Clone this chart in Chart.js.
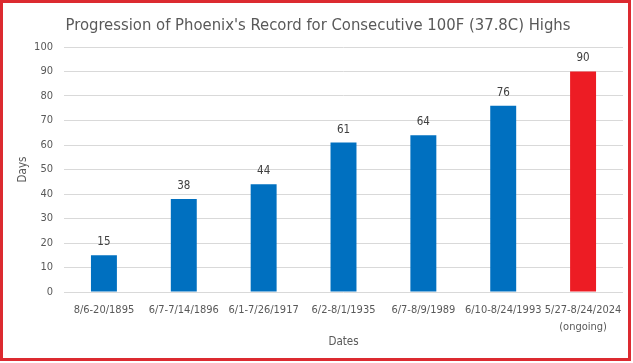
<!DOCTYPE html>
<html>
<head>
<meta charset="utf-8">
<script src="https://cdn.jsdelivr.net/npm/chart.js@4/dist/chart.umd.min.js"></script>
<style>
  html, body { margin: 0; padding: 0; background: #fff; }
  #wrap { position: relative; width: 633px; height: 363px; }
  #frame { position: absolute; left: 0; top: 0; width: 631px; height: 361px; box-sizing: border-box; border: 3px solid #dc2a30; pointer-events: none; }
  canvas { position: absolute; left: 0; top: 0; }
</style>
</head>
<body>
<div id="wrap">
  <canvas id="c" width="633" height="363"></canvas>
  <div id="frame"></div>
</div>
<script>
const categories = ['8/6-20/1895', '6/7-7/14/1896', '6/1-7/26/1917', '6/2-8/1/1935', '6/7-8/9/1989', '6/10-8/24/1993', ['5/27-8/24/2024', '(ongoing)']];
const days = [15, 38, 44, 61, 64, 76, 90];
const barColors = ['#0070c0', '#0070c0', '#0070c0', '#0070c0', '#0070c0', '#0070c0', '#ed1c24'];
const yTicks = [0, 10, 20, 30, 40, 50, 60, 70, 80, 90, 100];
const chartTitle = "Progression of Phoenix's Record for Consecutive 100F (37.8C) Highs";

const FONT = '"DejaVu Sans Condensed", "Liberation Sans", sans-serif';
const GREY = '#595959';

const valueLabels = {
  id: 'valueLabels',
  afterDatasetsDraw(chart) {
    const ctx = chart.ctx;
    const meta = chart.getDatasetMeta(0);
    ctx.save();
    ctx.font = '11.5px ' + FONT;
    ctx.fillStyle = '#404040';
    ctx.textAlign = 'center';
    ctx.textBaseline = 'middle';
    meta.data.forEach((bar, i) => {
      ctx.fillText(String(days[i]), bar.x, bar.y - 13);
    });
    ctx.restore();
  }
};

const titlePlugin = {
  id: 'customTitle',
  afterDraw(chart) {
    const ctx = chart.ctx;
    ctx.save();
    ctx.font = '16.5px ' + FONT;
    ctx.fillStyle = GREY;
    ctx.textAlign = 'center';
    ctx.textBaseline = 'middle';
    ctx.fillText(chartTitle, 318, 26);
    ctx.restore();
  }
};

new Chart(document.getElementById('c'), {
  type: 'bar',
  data: {
    labels: categories,
    datasets: [{
      data: days,
      backgroundColor: barColors,
      borderWidth: 0,
      categoryPercentage: 1,
      barPercentage: 0.325
    }]
  },
  options: {
    responsive: false,
    animation: false,
    layout: { padding: { left: 0, right: 10, top: 47, bottom: 0 } },
    plugins: {
      legend: { display: false },
      tooltip: { enabled: false },
      title: { display: false }
    },
    scales: {
      x: {
        afterFit(scale) { scale.height = 71; },
        grid: { display: false, drawTicks: false },
        border: { display: false },
        ticks: { color: GREY, font: { family: FONT, size: 11, lineHeight: 1.5 }, padding: 10, maxRotation: 0, autoSkip: false },
        title: { display: true, text: 'Dates', color: GREY, font: { family: FONT, size: 11.5 }, padding: { top: 0, bottom: 14 } }
      },
      y: {
        min: 0,
        max: 100,
        afterFit(scale) { scale.width = 64; },
        afterBuildTicks(scale) { scale.ticks = yTicks.map(v => ({ value: v })); },
        grid: { color: '#d9d9d9', drawTicks: false, lineWidth: 1 },
        border: { display: false },
        ticks: { color: GREY, font: { family: FONT, size: 11 }, padding: 11 },
        title: { display: true, text: 'Days', color: GREY, font: { family: FONT, size: 11.5 }, padding: { top: 16, bottom: 0 } }
      }
    }
  },
  plugins: [valueLabels, titlePlugin]
});
</script>
</body>
</html>
